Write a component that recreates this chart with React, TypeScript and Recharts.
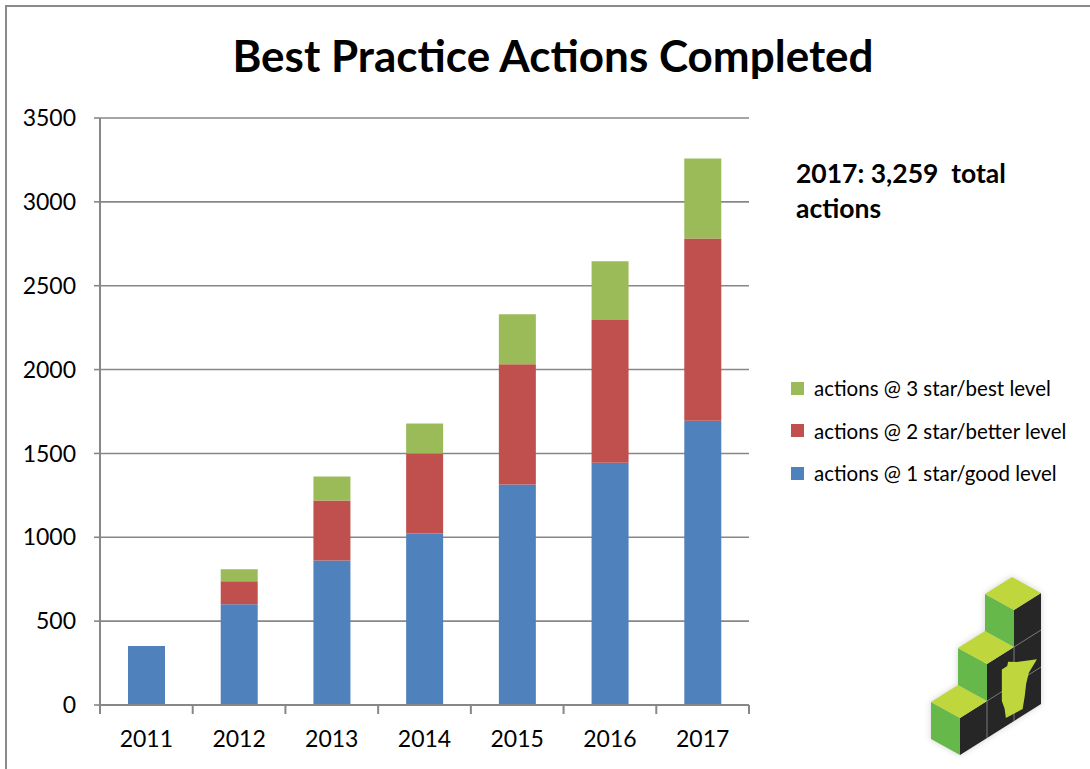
import { BarChart, Bar, XAxis, YAxis, CartesianGrid, Legend } from 'recharts';

const YEARS = ['2011', '2012', '2013', '2014', '2015', '2016', '2017'];
const GOOD = [352, 600, 861, 1022, 1314, 1445, 1695];
const BETTER = [0, 138, 358, 477, 717, 851, 1087];
const BEST = [0, 72, 143, 179, 299, 350, 477];
const Y_TICKS = [0, 500, 1000, 1500, 2000, 2500, 3000, 3500];

const SERIES = [
  { key: 'good', name: 'actions @ 1 star/good level', color: '#4f81bd' },
  { key: 'better', name: 'actions @ 2 star/better level', color: '#c0504d' },
  { key: 'best', name: 'actions @ 3 star/best level', color: '#9bbb59' },
];

const data = YEARS.map((year, i) => ({ year, good: GOOD[i], better: BETTER[i], best: BEST[i] }));

const W = 1090;
const H = 769;
const PLOT_LEFT = 100;
const PLOT_RIGHT = 749;
const PLOT_TOP = 118;
const PLOT_BOTTOM = 705;
const Y_AXIS_W = 60;
const X_AXIS_H = 40;
const GRID = '#878787';
const FONT = 'Lato, "Open Sans", sans-serif';

function YearTick(props: any) {
  const { x, payload, index } = props;
  const band = (PLOT_RIGHT - PLOT_LEFT) / YEARS.length;
  return (
    <g>
      <line x1={x - band / 2} x2={x - band / 2} y1={PLOT_BOTTOM} y2={PLOT_BOTTOM + 9} stroke={GRID} strokeWidth={2} />
      {index === YEARS.length - 1 && (
        <line x1={x + band / 2} x2={x + band / 2} y1={PLOT_BOTTOM} y2={PLOT_BOTTOM + 9} stroke={GRID} strokeWidth={2} />
      )}
      <text x={x} y={PLOT_BOTTOM + 42} textAnchor="middle" fontSize={23} fill="#000" fontFamily={FONT}>
        {payload.value}
      </text>
    </g>
  );
}

function renderLegend(props: any) {
  const items = [...(props.payload || [])].reverse();
  return (
    <div style={{ fontFamily: FONT, fontSize: 20.5, color: '#000', whiteSpace: 'nowrap' }}>
      {items.map((it: any) => (
        <div key={it.value} style={{ display: 'flex', alignItems: 'center', height: 42.5 }}>
          <span style={{ width: 13, height: 13, background: it.color, marginRight: 10, display: 'inline-block', flex: 'none' }} />
          <span>{it.value}</span>
        </div>
      ))}
    </div>
  );
}

// little isometric staircase logo, bottom right
const iso = (s: number, z: number, t: number) => `${960 + 27 * s - 29 * t},${755 - 17 * s - 37 * z - 16 * t}`;
const poly = (pts: number[][]) => pts.map(([s, z, t]) => iso(s, z, t)).join(' ');
const MN = [
  [1.55, 1.6], [1.75, 1.6], [1.78, 1.7], [2.1, 1.55], [2.85, 1.28], [2.55, 1.05],
  [2.45, 0.8], [2.4, 0.5], [2.32, 0.18], [1.7, 0.22], [1.65, 0.5], [1.55, 0.75],
];

function Logo() {
  const cols = [0, 1, 2];
  return (
    <g style={{ filter: 'drop-shadow(0 0 3px rgba(0,0,0,0.18))' }}>
      <polygon
        fill="#262626"
        points={poly([[0, 0, 0], [3, 0, 0], [3, 3, 0], [2, 3, 0], [2, 2, 0], [1, 2, 0], [1, 1, 0], [0, 1, 0]])}
      />
      {cols.map((i) => (
        <g key={i}>
          <polygon fill="#66b84a" points={poly([[i, i === 0 ? 0 : i, 0], [i, i + 1, 0], [i, i + 1, 1], [i, i === 0 ? 0 : i, 1]])} />
          <polygon fill="#bfd73d" points={poly([[i, i + 1, 0], [i + 1, i + 1, 0], [i + 1, i + 1, 1], [i, i + 1, 1]])} />
        </g>
      ))}
      <g stroke="#7a7a7a" strokeWidth={1} fill="none">
        <polyline points={poly([[1, 1, 0], [3, 1, 0]])} />
        <polyline points={poly([[2, 2, 0], [3, 2, 0]])} />
        <polyline points={poly([[1, 0, 0], [1, 1, 0]])} />
        <polyline points={poly([[2, 0, 0], [2, 2, 0]])} />
      </g>
      <polygon fill="#bfd73d" points={poly(MN.map(([s, z]) => [s, z, 0]))} />
    </g>
  );
}

export default function App() {
  return (
    <div style={{ position: 'absolute', left: 0, top: 0, width: W, height: H, background: '#fff', overflow: 'hidden' }}>
      <div
        style={{
          position: 'absolute',
          left: 5,
          top: 5,
          width: W - 5,
          height: H - 5,
          borderLeft: '2px solid #8a8a8a',
          borderTop: '2px solid #8a8a8a',
          boxSizing: 'border-box',
        }}
      />
      <div style={{ position: 'absolute', left: 0, top: 0 }}>
        <BarChart
          width={W}
          height={H}
          data={data}
          margin={{ top: PLOT_TOP, right: W - PLOT_RIGHT, bottom: H - PLOT_BOTTOM - X_AXIS_H, left: PLOT_LEFT - Y_AXIS_W }}
        >
          <CartesianGrid vertical={false} stroke={GRID} strokeWidth={1.6} />
          <XAxis
            dataKey="year"
            height={X_AXIS_H}
            tickLine={false}
            axisLine={{ stroke: GRID, strokeWidth: 2 }}
            tick={<YearTick />}
            interval={0}
          />
          <YAxis
            width={Y_AXIS_W}
            domain={[0, 3500]}
            ticks={Y_TICKS}
            interval={0}
            tickSize={6}
            tickMargin={18}
            tickLine={{ stroke: GRID, strokeWidth: 1.6 }}
            axisLine={{ stroke: GRID, strokeWidth: 2 }}
            tick={{ fill: '#000', fontSize: 23, fontFamily: FONT }}
          />
          <Legend
            content={renderLegend}
            wrapperStyle={{ position: 'absolute', left: 791, top: 367, width: 0, height: 0, overflow: 'visible' }}
          />
          {SERIES.map((s) => (
            <Bar key={s.key} dataKey={s.key} name={s.name} stackId="a" fill={s.color} barSize={37} isAnimationActive={false} />
          ))}
        </BarChart>
      </div>
      <svg width={W} height={H} style={{ position: 'absolute', left: 0, top: 0, pointerEvents: 'none' }}>
        <text x={553} y={72} textAnchor="middle" fontFamily={FONT} fontWeight={700} fontSize={44} fill="#000">
          Best Practice Actions Completed
        </text>
        <text x={796} y={183} fontFamily={FONT} fontWeight={700} fontSize={26.5} fill="#000" style={{ whiteSpace: 'pre' }}>
          {'2017: 3,259  total'}
        </text>
        <text x={796} y={218} fontFamily={FONT} fontWeight={700} fontSize={26.5} fill="#000">
          actions
        </text>
        <Logo />
      </svg>
    </div>
  );
}
